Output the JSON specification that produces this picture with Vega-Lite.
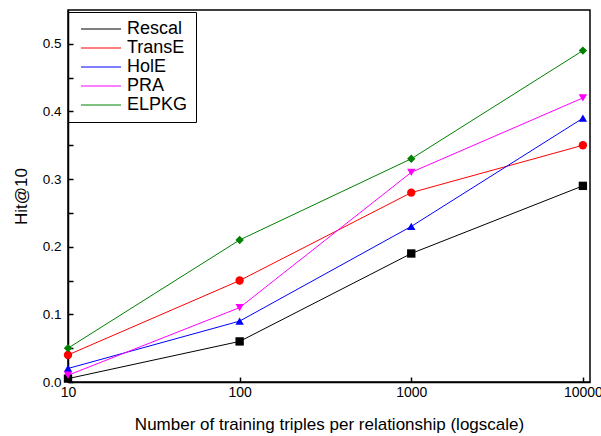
{
  "$schema": "https://vega.github.io/schema/vega-lite/v6.json",
  "width": 522,
  "height": 372,
  "autosize": {"type": "none"},
  "padding": {"left": 68, "top": 10, "right": 11, "bottom": 54},
  "background": "white",
  "config": {
    "font": "Liberation Sans",
    "view": {"stroke": "black", "strokeWidth": 1.5},
    "axis": {
      "domainColor": "black",
      "domainWidth": 1.5,
      "tickColor": "black",
      "tickWidth": 1.5,
      "tickSize": -5,
      "grid": false,
      "labelFont": "Liberation Sans",
      "labelFontSize": 14,
      "labelColor": "black",
      "titleFont": "Liberation Sans",
      "titleFontSize": 17,
      "titleFontWeight": "normal",
      "titleColor": "black"
    }
  },
  "data": {
    "values": [
      {"model": "Rescal", "n": 10, "hit": 0.005},
      {"model": "Rescal", "n": 100, "hit": 0.06},
      {"model": "Rescal", "n": 1000, "hit": 0.19},
      {"model": "Rescal", "n": 10000, "hit": 0.29},
      {"model": "TransE", "n": 10, "hit": 0.04},
      {"model": "TransE", "n": 100, "hit": 0.15},
      {"model": "TransE", "n": 1000, "hit": 0.28},
      {"model": "TransE", "n": 10000, "hit": 0.35},
      {"model": "HolE", "n": 10, "hit": 0.02},
      {"model": "HolE", "n": 100, "hit": 0.09},
      {"model": "HolE", "n": 1000, "hit": 0.23},
      {"model": "HolE", "n": 10000, "hit": 0.39},
      {"model": "PRA", "n": 10, "hit": 0.01},
      {"model": "PRA", "n": 100, "hit": 0.11},
      {"model": "PRA", "n": 1000, "hit": 0.31},
      {"model": "PRA", "n": 10000, "hit": 0.42},
      {"model": "ELPKG", "n": 10, "hit": 0.05},
      {"model": "ELPKG", "n": 100, "hit": 0.21},
      {"model": "ELPKG", "n": 1000, "hit": 0.33},
      {"model": "ELPKG", "n": 10000, "hit": 0.49}
    ]
  },
  "encoding": {
    "x": {
      "field": "n",
      "type": "quantitative",
      "scale": {"type": "log", "domain": [10, 11000], "nice": false},
      "axis": {
        "values": [10, 100, 1000, 10000],
        "format": "d",
        "labelFlush": false,
        "labelPadding": 8,
        "title": "Number of training triples per relationship (logscale)",
        "titlePadding": 17
      }
    },
    "y": {
      "field": "hit",
      "type": "quantitative",
      "scale": {"domain": [0, 0.55], "nice": false},
      "axis": {
        "values": [0, 0.05, 0.1, 0.15, 0.2, 0.25, 0.3, 0.35, 0.4, 0.45, 0.5],
        "labelExpr": "round(datum.value * 100) % 10 == 0 ? format(datum.value, '.1f') : ''",
        "labelFontSize": 13.5,
        "labelPadding": 12,
        "title": "Hit@10",
        "titlePadding": 12
      }
    }
  },
  "layer": [
    {
      "mark": {"type": "line", "strokeWidth": 1},
      "encoding": {
        "stroke": {
          "field": "model",
          "type": "nominal",
          "sort": ["Rescal", "TransE", "HolE", "PRA", "ELPKG"],
          "scale": {
            "range": ["#000000", "#ff0000", "#0000ff", "#ff00ff", "#008000"]
          },
          "legend": {
            "orient": "none",
            "legendX": 0,
            "legendY": 2,
            "title": null,
            "strokeColor": "black",
            "padding": 8,
            "labelFont": "Liberation Sans",
            "labelFontSize": 18,
            "labelColor": "black",
            "symbolType": "M-5,0H5",
            "symbolSize": 64,
            "symbolStrokeWidth": 1,
            "symbolOffset": 16,
            "labelOffset": 17,
            "rowPadding": 1
          }
        }
      }
    },
    {
      "mark": {"type": "point", "filled": true, "size": 70, "opacity": 1},
      "encoding": {
        "fill": {
          "field": "model",
          "type": "nominal",
          "scale": {
            "domain": ["Rescal", "TransE", "HolE", "PRA", "ELPKG"],
            "range": ["#000000", "#ff0000", "#0000ff", "#ff00ff", "#008000"]
          },
          "legend": {
            "orient": "none",
            "legendX": 0,
            "legendY": 2,
            "title": null,
            "padding": 8,
            "labelFont": "Liberation Sans",
            "labelFontSize": 18,
            "labelOpacity": 0,
            "symbolSize": 64,
            "symbolOffset": 16,
            "labelOffset": 17,
            "rowPadding": 1,
            "symbolOpacity": 1
          }
        },
        "shape": {
          "field": "model",
          "type": "nominal",
          "scale": {
            "domain": ["Rescal", "TransE", "HolE", "PRA", "ELPKG"],
            "range": ["square", "circle", "triangle-up", "triangle-down", "diamond"]
          },
          "legend": null
        }
      }
    }
  ]
}
